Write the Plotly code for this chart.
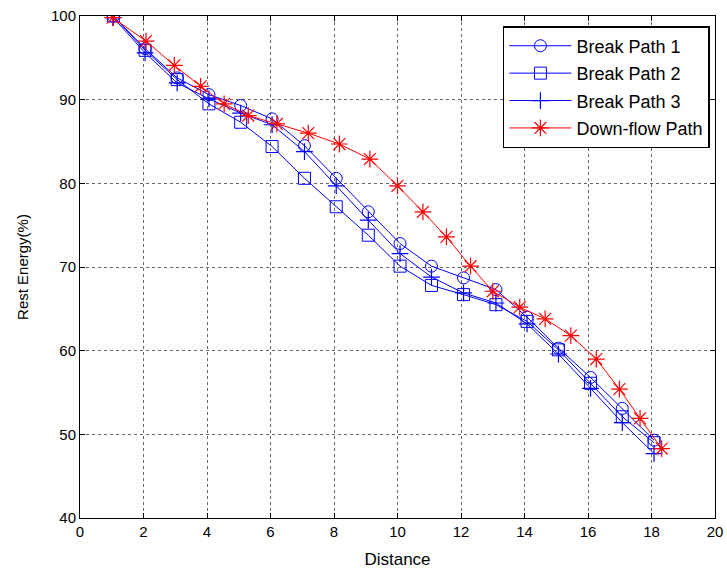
import plotly.graph_objects as go

# Break paths x positions
x_break = [1.05, 2.05, 3.06, 4.06, 5.06, 6.05, 7.07, 8.07, 9.08, 10.08,
           11.07, 12.08, 13.1, 14.08, 15.07, 16.08, 17.08, 18.08]
path1 = [100.0, 96.1, 92.6, 90.6, 89.3, 87.7, 84.5, 80.6, 76.6, 72.8,
         70.1, 68.7, 67.3, 64.0, 60.3, 56.8, 53.1, 49.3]
path2 = [100.0, 95.9, 92.4, 89.5, 87.3, 84.4, 80.6, 77.2, 73.8, 70.1,
         67.8, 66.7, 65.5, 63.5, 60.1, 56.1, 52.1, 49.0]
path3 = [99.8, 95.6, 92.0, 90.1, 88.4, 87.0, 83.8, 79.7, 75.6, 71.6,
         68.8, 66.9, 65.7, 63.2, 59.6, 55.5, 51.4, 47.7]

x_down = [1.03, 2.08, 2.97, 3.8, 4.54, 5.3, 6.2, 7.19, 8.17, 9.13, 10.0,
          10.8, 11.54, 12.3, 13.0, 13.85, 14.65, 15.46, 16.26, 16.99, 17.64, 18.32]
down = [99.8, 97.0, 94.1, 91.6, 89.5, 88.1, 87.1, 86.0, 84.7, 82.9, 79.7,
        76.6, 73.6, 70.1, 67.1, 65.2, 63.8, 61.8, 59.0, 55.4, 51.9, 48.3]

names = ["Break Path 1", "Break Path 2", "Break Path 3", "Down-flow Path"]
x_ticks = list(range(0, 21, 2))
y_ticks = list(range(40, 101, 10))

BLUE = "#0000FF"
RED = "#FF0000"
FONT = "Liberation Sans, Arial, sans-serif"

fig = go.Figure()
fig.add_trace(go.Scatter(x=x_break, y=path1, name=names[0], mode="lines+markers",
                         legendgroup="a",
                         line=dict(color=BLUE, width=1),
                         marker=dict(symbol="circle-open", size=12, color=BLUE,
                                     line=dict(width=1, color=BLUE))))
fig.add_trace(go.Scatter(x=x_break, y=path2, name=names[1], mode="lines+markers",
                         legendgroup="b",
                         line=dict(color=BLUE, width=1),
                         marker=dict(symbol="square-open", size=12, color=BLUE,
                                     line=dict(width=1, color=BLUE))))
fig.add_trace(go.Scatter(x=x_break, y=path3, name=names[2], mode="lines+markers",
                         legendgroup="c",
                         line=dict(color=BLUE, width=1),
                         marker=dict(symbol="cross-thin-open", size=12, color=BLUE,
                                     line=dict(width=1.2, color=BLUE))))
fig.add_trace(go.Scatter(x=x_down, y=down, name=names[3], mode="lines+markers",
                         legendgroup="d",
                         line=dict(color=RED, width=1),
                         marker=dict(symbol="asterisk-open", size=14, color=RED,
                                     line=dict(width=1.2, color=RED))))

axis_common = dict(
    showline=True, linecolor="black", linewidth=1, mirror="ticks",
    ticks="inside", ticklen=5, tickcolor="black", tickwidth=1,
    showgrid=True, gridcolor="#666666", griddash="dot", gridwidth=1,
    zeroline=False, automargin=False,
    tickfont=dict(family=FONT, size=15, color="black"),
)

fig.update_layout(
    width=727, height=570,
    margin=dict(l=80, r=12, t=16, b=52),
    paper_bgcolor="white", plot_bgcolor="white",
    font=dict(family=FONT, color="black"),
    xaxis=dict(range=[0, 20], tickvals=x_ticks,
               title=dict(text="Distance", font=dict(size=17), standoff=14),
               **axis_common),
    yaxis=dict(range=[40, 100], tickvals=y_ticks,
               title=dict(text="Rest Energy(%)", font=dict(size=15), standoff=18),
               **axis_common),
    legend=dict(x=0.992, y=0.98, xanchor="right", yanchor="top",
                bgcolor="white", bordercolor="black", borderwidth=1.5,
                font=dict(size=18, color="black"), itemwidth=62,
                tracegroupgap=1),
    showlegend=True,
)

fig.write_html("out.html")
